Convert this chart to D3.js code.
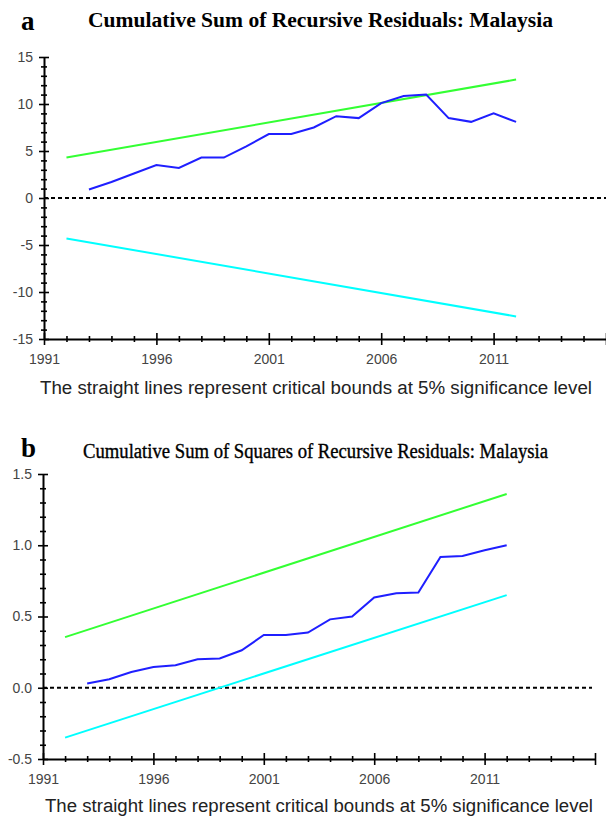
<!DOCTYPE html>
<html>
<head>
<meta charset="utf-8">
<script src="https://cdn.jsdelivr.net/npm/d3@7"></script>
<style>
  body { margin: 0; background: #fff; }
  text { font-family: "Liberation Sans", Arial, sans-serif; }
</style>
</head>
<body>
<svg width="606" height="822"></svg>
<script>
// data
var years = [1993, 1994, 1995, 1996, 1997, 1998, 1999, 2000, 2001, 2002,
             2003, 2004, 2005, 2006, 2007, 2008, 2009, 2010, 2011, 2012];
var cusum = [0.9, 1.7, 2.6, 3.5, 3.2, 4.3, 4.3, 5.5, 6.8, 6.8,
             7.5, 8.7, 8.5, 10.1, 10.85, 11.0, 8.5, 8.1, 9.0, 8.1];
var cusumsq = [0.03, 0.06, 0.11, 0.146, 0.158, 0.2, 0.205, 0.263, 0.37, 0.37,
               0.387, 0.48, 0.5, 0.633, 0.663, 0.668, 0.918, 0.925, 0.965, 1.0];

// critical bounds are straight lines: two end points each
var boundYears = [1992, 2012];
var cusumUpper = [4.3, 12.6];
var cusumLower = [-4.3, -12.6];
var sqUpper = [0.355, 1.36];
var sqLower = [-0.35, 0.65];

var yearLabels = [1991, 1996, 2001, 2006, 2011];
var cusumLabels = [-15, -10, -5, 0, 5, 10, 15];
var sqLabels = [-0.5, 0.0, 0.5, 1.0, 1.5];
var caption = "The straight lines represent critical bounds at 5% significance level";

var svg = d3.select("svg");

function drawPanel(p) {
    var x = d3.scaleLinear().domain([1991, 2016]).range(p.xRange);
    var y = d3.scaleLinear().domain(p.yDomain).range(p.yRange);
    var g = svg.append("g");
    var y0 = p.yRange[0];

    // x axis, a tick every year, labels every 5
    var xAxis = d3.axisBottom(x)
        .tickValues(d3.range(1991, 2017))
        .tickSizeOuter(0)
        .tickFormat(function(d) { return yearLabels.indexOf(d) >= 0 ? d : ""; });
    var gx = g.append("g").attr("transform", "translate(0," + y0 + ")").call(xAxis);
    gx.select(".domain").attr("stroke", "#000").attr("stroke-width", 2);
    gx.selectAll(".tick line")
        .attr("stroke", "#000")
        .attr("stroke-width", 1.6)
        .attr("y1", function(d) { return (d - 1991) % 5 == 0 ? -6 : -3; })
        .attr("y2", function(d) { return (d - 1991) % 5 == 0 ? 6 : 3; });
    gx.selectAll(".tick text")
        .attr("y", 25).attr("dy", 0)
        .attr("fill", "#444")
        .style("font-size", "14px");

    // y axis, minor ticks between labelled ones
    var minor = d3.range(p.minorCount + 1).map(function(i) {
        return p.yDomain[0] + i * (p.yDomain[1] - p.yDomain[0]) / p.minorCount;
    });
    var yAxis = d3.axisLeft(y)
        .tickValues(minor)
        .tickSizeOuter(0)
        .tickFormat(function(d, i) { return i % p.majorEvery == 0 ? p.fmt(d) : ""; });
    var gy = g.append("g").attr("transform", "translate(" + p.xRange[0] + ",0)").call(yAxis);
    gy.select(".domain").attr("stroke", "#000").attr("stroke-width", 2);
    gy.selectAll(".tick line")
        .attr("stroke", "#000")
        .attr("stroke-width", 1.6)
        .attr("x1", function(d, i) { return i % p.majorEvery == 0 ? -5 : -3; })
        .attr("x2", function(d, i) { return i % p.majorEvery == 0 ? 5 : 3; });
    gy.selectAll(".tick text")
        .attr("x", -11)
        .attr("fill", "#444")
        .style("font-size", "14px");

    // zero line
    g.append("line")
        .attr("x1", x(1991)).attr("x2", p.dashEnd)
        .attr("y1", y(0)).attr("y2", y(0))
        .attr("stroke", "#000")
        .attr("stroke-width", 2)
        .attr("stroke-dasharray", "4,3");

    var line = d3.line()
        .x(function(d) { return x(d[0]); })
        .y(function(d) { return y(d[1]); });

    g.append("path").datum(d3.zip(boundYears, p.upper))
        .attr("d", line).attr("fill", "none")
        .attr("stroke", "#33ff33").attr("stroke-width", 2);
    g.append("path").datum(d3.zip(boundYears, p.lower))
        .attr("d", line).attr("fill", "none")
        .attr("stroke", "#00ffff").attr("stroke-width", 2);
    g.append("path").datum(d3.zip(years, p.values))
        .attr("d", line).attr("fill", "none")
        .attr("stroke", "#1f1fff").attr("stroke-width", 2);

    // panel letter and title
    g.append("text")
        .attr("x", 21).attr("y", p.letterY)
        .style("font-family", "'Liberation Serif', 'Times New Roman', serif")
        .style("font-weight", "bold")
        .style("font-size", "27px")
        .text(p.letter);
    g.append("text")
        .attr("x", p.titleX).attr("y", p.titleY)
        .attr("textLength", p.titleW)
        .attr("lengthAdjust", "spacingAndGlyphs")
        .style("font-family", "'Liberation Serif', 'Times New Roman', serif")
        .style("font-weight", p.titleWeight)
        .style("font-size", p.titleSize)
        .attr("stroke", p.titleWeight == "bold" ? "none" : "#000")
        .attr("stroke-width", 0.35)
        .text(p.title);

    // caption
    g.append("text")
        .attr("x", p.capX).attr("y", y0 + p.capDy)
        .attr("textLength", p.capW)
        .attr("lengthAdjust", "spacingAndGlyphs")
        .attr("fill", "#222")
        .style("font-size", "18px")
        .text(caption);
}

drawPanel({
    xRange: [44, 606], yRange: [339, 57], yDomain: [-15, 15],
    minorCount: 30, majorEvery: 5, fmt: function(d) { return String(Math.round(d)); },
    values: cusum, upper: cusumUpper, lower: cusumLower, dashEnd: 606,
    letter: "a", letterY: 30,
    title: "Cumulative Sum of Recursive Residuals: Malaysia",
    titleX: 88, titleY: 27, titleW: 465, titleSize: "21px", titleWeight: "bold",
    capX: 40, capDy: 55, capW: 552
});

drawPanel({
    xRange: [43, 595], yRange: [759, 474], yDomain: [-0.5, 1.5],
    minorCount: 20, majorEvery: 5, fmt: function(d) { return d.toFixed(1); },
    values: cusumsq, upper: sqUpper, lower: sqLower, dashEnd: 592,
    letter: "b", letterY: 457,
    title: "Cumulative Sum of Squares of Recursive Residuals: Malaysia",
    titleX: 83, titleY: 458, titleW: 465, titleSize: "20px", titleWeight: "normal",
    capX: 45, capDy: 53, capW: 548
});
</script>
</body>
</html>
